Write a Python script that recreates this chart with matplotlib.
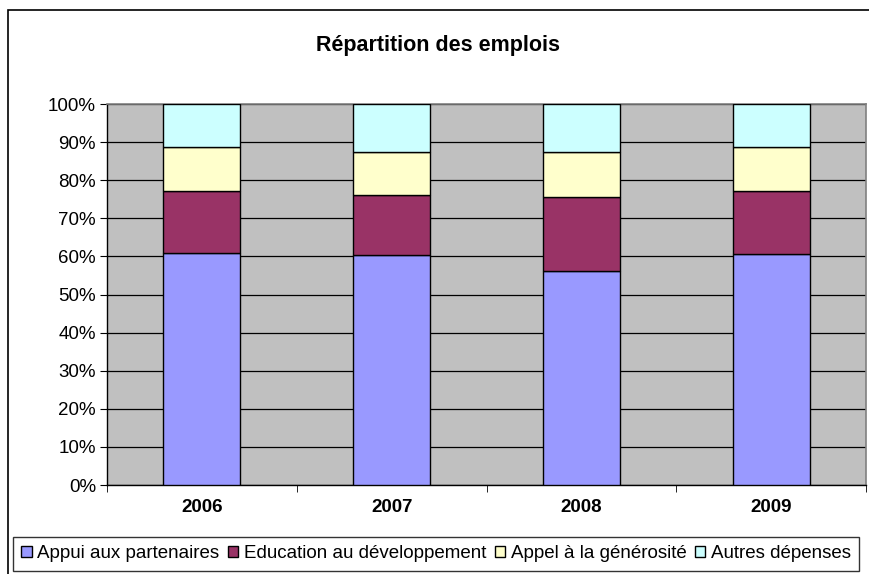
import matplotlib
matplotlib.use("Agg")
import matplotlib.pyplot as plt
from matplotlib.patches import Rectangle
import numpy as np

plt.rcParams['font.family'] = ['Liberation Sans', 'DejaVu Sans']

years = ["2006", "2007", "2008", "2009"]
series = ["Appui aux partenaires", "Education au développement",
          "Appel à la générosité", "Autres dépenses"]
appui = [60.9, 60.3, 56.1, 60.6]
education = [16.3, 15.8, 19.5, 16.6]
appel = [11.6, 11.2, 11.7, 11.6]
autres = [11.2, 12.7, 12.7, 11.2]
colors = ["#9999FF", "#993366", "#FFFFCC", "#CCFFFF"]

fig = plt.figure(figsize=(8.69, 5.74), dpi=100)
ax = fig.add_axes([107/869, 89/574, (866-107)/869, (485-104)/574])
ax.set_facecolor("#C0C0C0")

x = np.arange(len(years))
bottom = np.zeros(len(years))
handles = []
for vals, col, name in zip([appui, education, appel, autres], colors, series):
    b = ax.bar(x, vals, width=0.405, bottom=bottom, color=col,
               edgecolor="black", linewidth=1.0, label=name, zorder=3)
    handles.append(b)
    bottom += np.array(vals)

ax.set_xlim(-0.5, len(years) - 0.5)
ax.set_ylim(0, 100)
ax.set_yticks(np.arange(0, 101, 10))
ax.set_yticklabels([f"{v}%" for v in range(0, 101, 10)], fontsize=13.5)
ax.yaxis.grid(True, color="black", linewidth=0.9, zorder=1)
ax.set_axisbelow(True)

ax.set_xticks(x)
ax.set_xticklabels(years, fontsize=13.5, fontweight="bold")
ax.tick_params(axis='x', length=0, pad=10)
ax.set_xticks(np.arange(-0.5, len(years), 1), minor=True)
ax.tick_params(axis='x', which='minor', length=5, direction='out', color='black')
ax.tick_params(axis='y', length=5, direction='out', color='black', pad=3)

for s in ["top", "right"]:
    ax.spines[s].set_color("#808080")
    ax.spines[s].set_linewidth(1.2)
for s in ["left", "bottom"]:
    ax.spines[s].set_color("black")
    ax.spines[s].set_linewidth(1.0)

fig.text(438/869, 1 - 45/574, "Répartition des emplois", ha="center",
         va="center", fontsize=15.5, fontweight="bold")

# outer chart border
fig.patches.append(Rectangle((8/869, -0.1), 1.0, (574-10)/574 + 0.1,
                             transform=fig.transFigure, fill=False,
                             edgecolor="black", linewidth=1.2))

leg = fig.legend(handles=handles, labels=series, loc="upper left",
                 bbox_to_anchor=(13/869, 1 - 537/574), ncol=4,
                 frameon=True, fancybox=False, edgecolor="black",
                 fontsize=13.5, handlelength=0.55, handleheight=0.55,
                 handletextpad=0.3, columnspacing=0.45, borderpad=0.45,
                 borderaxespad=0)
leg.get_frame().set_linewidth(1.0)

fig.savefig("out.png", dpi=100)
